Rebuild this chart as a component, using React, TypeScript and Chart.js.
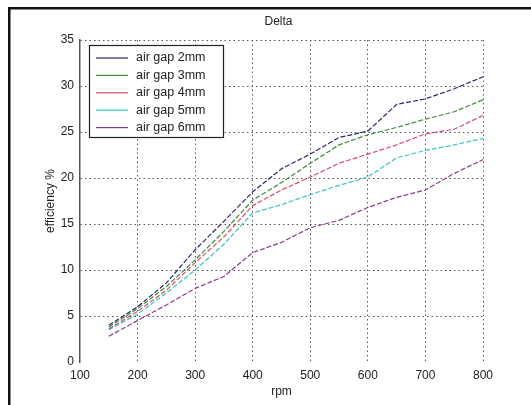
import React, { useEffect, useRef } from "react";
import { Chart, registerables } from "chart.js";

Chart.register(...registerables);

const rpm = [150, 200, 250, 300, 350, 400, 450, 500, 550, 600, 650, 700, 750, 800];
const gap2 = [4.0, 6.0, 8.6, 12.2, 15.3, 18.5, 21.0, 22.6, 24.4, 25.1, 28.0, 28.6, 29.7, 31.0];
const gap3 = [3.8, 5.8, 8.2, 11.1, 14.2, 17.6, 19.5, 21.6, 23.6, 24.7, 25.5, 26.4, 27.2, 28.5];
const gap4 = [3.6, 5.5, 7.8, 10.8, 13.6, 17.0, 18.7, 20.1, 21.6, 22.6, 23.6, 24.8, 25.3, 26.8];
const gap5 = [3.5, 5.2, 7.5, 10.0, 12.8, 16.2, 17.1, 18.2, 19.2, 20.1, 22.2, 23.0, 23.6, 24.3];
const gap6 = [2.8, 4.5, 6.2, 8.0, 9.3, 11.9, 13.0, 14.6, 15.4, 16.8, 17.9, 18.7, 20.5, 22.0];

const seriesNames = ["air gap 2mm", "air gap 3mm", "air gap 4mm", "air gap 5mm", "air gap 6mm"];
const seriesValues = [gap2, gap3, gap4, gap5, gap6];
const seriesColors = ["#2a2a6a", "#3d8a3d", "#d2506a", "#3cc4c4", "#8a3a8a"];

const chartTitle = "Delta";
const xTitle = "rpm";
const yTitle = "efficiency %";

const FONT = "'Liberation Sans', Arial, sans-serif";

const framePlugin = {
  id: "frame",
  beforeDraw(chart: any) {
    const ctx = chart.ctx;
    ctx.save();
    ctx.fillStyle = "#ffffff";
    ctx.fillRect(0, 0, chart.width, chart.height);
    ctx.fillStyle = "#111111";
    ctx.fillRect(8, 7, chart.width - 8, 2.5);
    ctx.fillRect(8, 7, 2.5, chart.height - 7);
    ctx.restore();
  },
};

const titlePlugin = {
  id: "ownTitle",
  afterDraw(chart: any) {
    const ctx = chart.ctx;
    const a = chart.chartArea;
    ctx.save();
    ctx.font = `12px ${FONT}`;
    ctx.fillStyle = "#222";
    ctx.textAlign = "center";
    ctx.textBaseline = "middle";
    ctx.fillText(chartTitle, (a.left + a.right) / 2 - 3, 22);
    ctx.restore();
  },
};

const legendPlugin = {
  id: "insideLegend",
  afterDatasetsDraw(chart: any) {
    const ctx = chart.ctx;
    const a = chart.chartArea;
    const x0 = a.left + 9;
    const y0 = a.top + 5;
    const w = 134;
    const h = 92;
    ctx.save();
    ctx.fillStyle = "#ffffff";
    ctx.fillRect(x0, y0, w, h);
    ctx.strokeStyle = "#222";
    ctx.lineWidth = 1.2;
    ctx.strokeRect(x0 + 0.5, y0 + 0.5, w, h);
    ctx.font = `12.5px ${FONT}`;
    ctx.textBaseline = "middle";
    ctx.textAlign = "left";
    chart.data.datasets.forEach((ds: any, i: number) => {
      const y = y0 + 13 + i * 17.4;
      ctx.strokeStyle = ds.borderColor;
      ctx.lineWidth = 1.2;
      ctx.setLineDash([]);
      ctx.beginPath();
      ctx.moveTo(x0 + 7, y);
      ctx.lineTo(x0 + 39, y);
      ctx.stroke();
      ctx.fillStyle = "#222";
      ctx.fillText(ds.label, x0 + 47, y);
    });
    ctx.restore();
  },
};

export default function App() {
  const ref = useRef<HTMLCanvasElement | null>(null);

  useEffect(() => {
    document.body.style.margin = "0";
    if (!ref.current) return;
    const datasets = seriesNames.map((name, i) => ({
      label: name,
      data: rpm.map((x, j) => ({ x, y: seriesValues[i][j] })),
      borderColor: seriesColors[i],
      backgroundColor: seriesColors[i],
      borderWidth: 1.2,
      borderDash: [5, 2],
      pointRadius: 0,
      tension: 0,
      fill: false,
    }));
    const chart = new Chart(ref.current, {
      type: "line",
      data: { datasets },
      options: {
        animation: false,
        responsive: false,
        maintainAspectRatio: false,
        layout: { padding: { left: 0, right: 48, top: 40, bottom: 0 } },
        plugins: {
          legend: { display: false },
          title: { display: false },
          tooltip: { enabled: false },
        },
        scales: {
          x: {
            type: "linear",
            min: 100,
            max: 800,
            ticks: {
              stepSize: 100,
              padding: 6,
              color: "#222",
              font: { family: FONT, size: 12 },
            },
            grid: {
              drawTicks: false,
              color: (c: any) => (c.tick && (c.tick.value === 100) ? "rgba(0,0,0,0)" : "#555"),
              lineWidth: 1,
            },
            border: { display: false, dash: [1.5, 3] },
            title: {
              display: true,
              text: xTitle,
              color: "#222",
              font: { family: FONT, size: 12 },
              padding: { top: 0, bottom: 6 },
            },
            afterFit: (s: any) => {
              s.height = 43;
            },
          },
          y: {
            type: "linear",
            min: 0,
            max: 35,
            ticks: {
              stepSize: 5,
              padding: 6,
              color: "#222",
              font: { family: FONT, size: 12 },
            },
            grid: {
              drawTicks: false,
              color: (c: any) => (c.tick && c.tick.value === 0 ? "rgba(0,0,0,0)" : "#555"),
              lineWidth: 1,
            },
            border: { display: true, color: "#555", width: 1.5, dash: [1.5, 3] },
            title: {
              display: true,
              text: yTitle,
              color: "#222",
              font: { family: FONT, size: 12 },
              padding: { top: 43, bottom: 0 },
            },
            afterFit: (s: any) => {
              s.width = 80;
            },
          },
        },
      },
      plugins: [framePlugin, titlePlugin, legendPlugin],
    });
    return () => chart.destroy();
  }, []);

  return (
    <div style={{ width: 531, height: 405 }}>
      <canvas ref={ref} width={531} height={405} style={{ display: "block" }} />
    </div>
  );
}
